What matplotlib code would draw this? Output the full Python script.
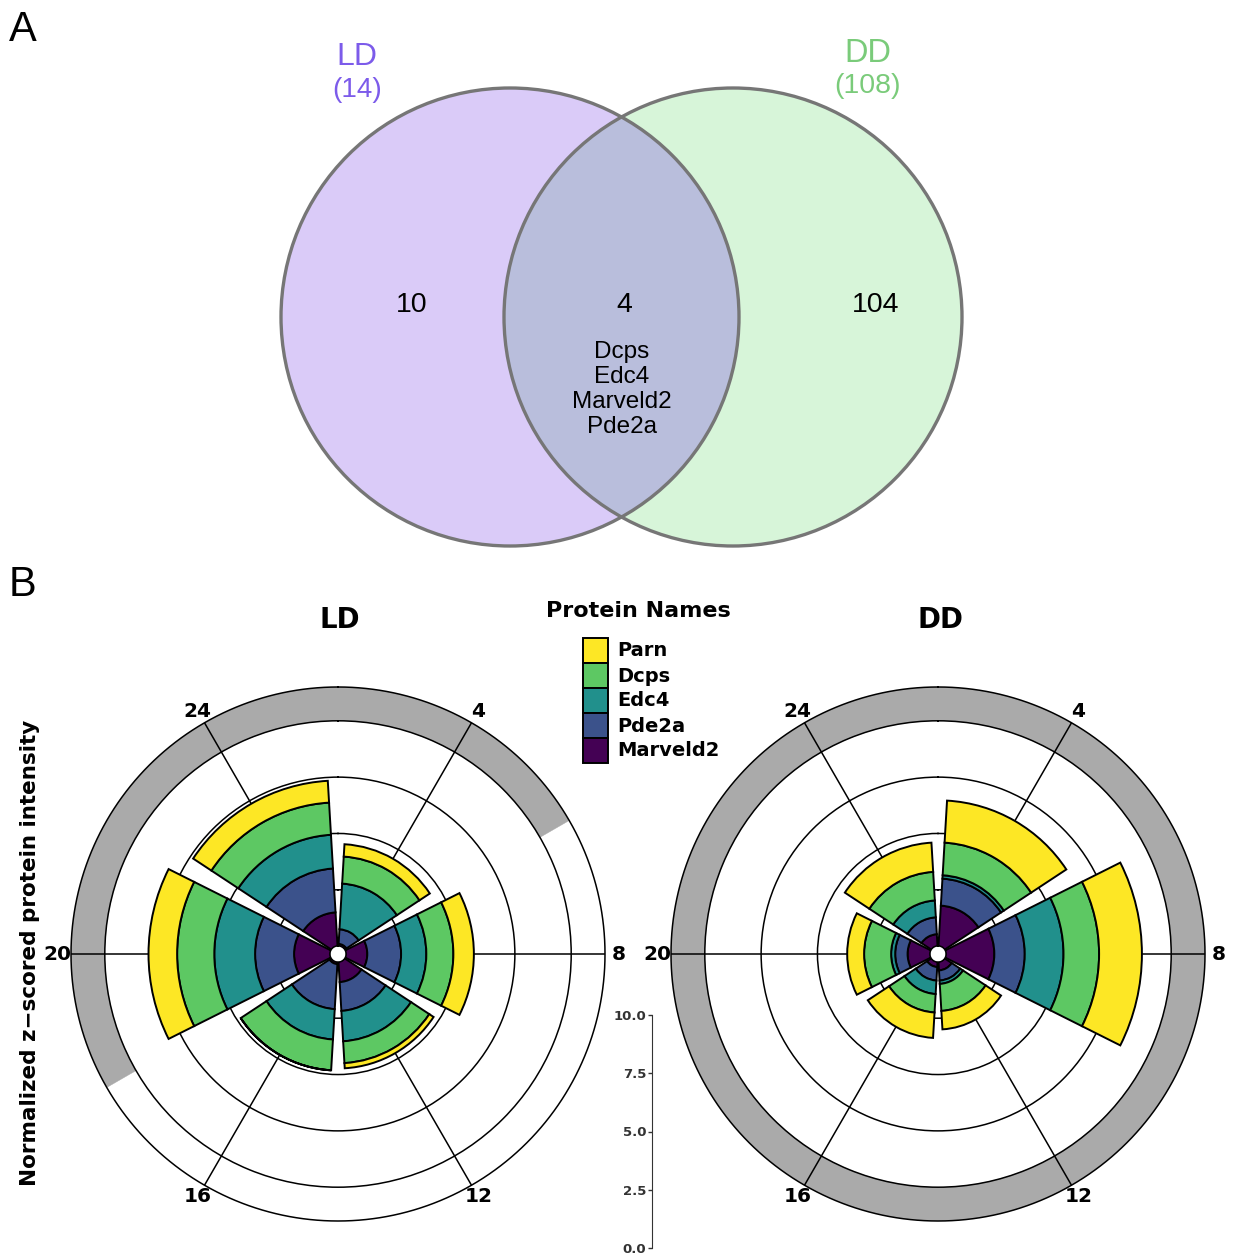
import numpy as np
import matplotlib.pyplot as plt
from matplotlib.patches import Circle, Rectangle

plt.rcParams['font.family'] = ['Liberation Sans', 'DejaVu Sans']

# ---- panel A: Venn counts
venn_names = ['LD', 'DD']
venn_totals = [14, 108]
venn_only = [10, 104]
venn_shared = 4
shared_genes = ['Dcps', 'Edc4', 'Marveld2', 'Pde2a']

# ---- panel B: stacked rose charts (z-scored intensity per ZT)
zt_hours = [0, 4, 8, 12, 16, 20]
hour_labels = ['24', '4', '8', '12', '16', '20']
proteins = ['Marveld2', 'Pde2a', 'Edc4', 'Dcps', 'Parn']      # inner -> outer
protein_colors = ['#440154', '#3B528B', '#21908C', '#5DC863', '#FDE725']

ld_marveld2 = [1.50, 0.10, 0.95, 0.90, 0.10, 1.60]
ld_pde2a = [1.95, 0.65, 1.50, 1.28, 2.00, 1.73]
ld_edc4 = [1.50, 2.03, 1.12, 1.35, 1.35, 1.81]
ld_dcps = [1.43, 1.20, 1.20, 0.97, 1.37, 1.65]
ld_parn = [0.97, 0.55, 0.91, 0.23, 0.00, 1.27]

dd_marveld2 = [0.53, 1.80, 2.15, 0.38, 0.23, 1.00]
dd_pde2a = [0.75, 1.20, 1.35, 0.45, 0.60, 0.55]
dd_edc4 = [0.75, 0.15, 1.72, 0.15, 0.60, 0.18]
dd_dcps = [1.27, 1.45, 1.58, 1.20, 0.82, 1.20]
dd_parn = [1.30, 1.87, 1.90, 0.82, 1.13, 0.75]

ld_dark = [18, 30]   # shaded ring, hours
dd_dark = [0, 24]
scale_ticks = [0, 2.5, 5, 7.5, 10]

ld_stack = [ld_marveld2, ld_pde2a, ld_edc4, ld_dcps, ld_parn]
dd_stack = [dd_marveld2, dd_pde2a, dd_edc4, dd_dcps, dd_parn]

BFONT = ['DejaVu Sans']
R_MAX = 11.5

W, H = 1235, 1257
fig = plt.figure(figsize=(W / 100, H / 100), dpi=100)

# overlay in pixel coordinates for the Venn diagram and free text
bg = fig.add_axes([0, 0, 1, 1], zorder=0)
bg.set_xlim(0, W)
bg.set_ylim(H, 0)
bg.axis('off')

venn_centers = [(510, 317), (733, 317)]
venn_r = 229
fill_cols = ['#DACBF8', '#D7F5D9']
text_cols = ['#7C5BEA', '#7ACB7A']
for (cx, cy), fc in zip(venn_centers, fill_cols):
    bg.add_patch(Circle((cx, cy), venn_r, facecolor=fc, edgecolor='none'))
overlap = Circle(venn_centers[0], venn_r, facecolor='#B9BEDC', edgecolor='none')
bg.add_patch(overlap)
overlap.set_clip_path(Circle(venn_centers[1], venn_r, transform=bg.transData))
for c in venn_centers:
    bg.add_patch(Circle(c, venn_r, facecolor='none', edgecolor='#767676', lw=2.4))

bg.text(357, 57, venn_names[0], color=text_cols[0], fontsize=23, ha='center', va='center')
bg.text(357, 90, '(%d)' % venn_totals[0], color=text_cols[0], fontsize=20, ha='center', va='center')
bg.text(868, 53, venn_names[1], color=text_cols[1], fontsize=23.5, ha='center', va='center')
bg.text(868, 86, '(%d)' % venn_totals[1], color=text_cols[1], fontsize=20.5, ha='center', va='center')
bg.text(412, 305, str(venn_only[0]), fontsize=20.5, ha='center', va='center')
bg.text(876, 305, str(venn_only[1]), fontsize=20.5, ha='center', va='center')
bg.text(624, 305, str(venn_shared), fontsize=20.5, ha='center', va='center')
for i, g in enumerate(shared_genes):
    bg.text(622, 352 + 25 * i, g, fontsize=17.5, ha='center', va='center')

bg.text(9, 30, 'A', fontsize=30, ha='left', va='center')
bg.text(9, 585, 'B', fontsize=30, ha='left', va='center')
bg.text(340, 620, 'LD', fontsize=20, fontweight='bold', family=BFONT, ha='center', va='center')
bg.text(940, 620, 'DD', fontsize=20, fontweight='bold', family=BFONT, ha='center', va='center')
bg.text(30, 953, 'Normalized z\u2212scored protein intensity', fontsize=15.5,
        fontweight='bold', family=BFONT, rotation=90, ha='center', va='center')

# legend (drawn by hand so keys touch like the original)
bg.text(638, 611, 'Protein Names', fontsize=16, fontweight='bold', family=BFONT,
        ha='center', va='center')
for i, (name, col) in enumerate(zip(proteins[::-1], protein_colors[::-1])):
    bg.add_patch(Rectangle((583, 638 + 25 * i), 25, 25, facecolor=col,
                           edgecolor='black', lw=1.4))
    bg.text(617, 651 + 25 * i, name, fontsize=14, fontweight='bold', family=BFONT,
            ha='left', va='center')


def hour_theta(h):
    # 2 h sits at the top, hours run clockwise; keep angles in [0, 2pi)
    return np.mod((np.asarray(h, dtype=float) - 2) / 24 * 2 * np.pi, 2 * np.pi)


def rose(center, stack, dark):
    R = 267
    cx, cy = center
    ax = fig.add_axes([(cx - R) / W, 1 - (cy + R) / H, 2 * R / W, 2 * R / H],
                      projection='polar', zorder=2)
    ax.patch.set_alpha(0)
    ax.set_theta_zero_location('N')
    ax.set_theta_direction(-1)

    theta = hour_theta(zt_hours)
    width = 3.55 / 24 * 2 * np.pi

    # dark-phase ring, drawn in pieces of at most 12 h
    d0, d1 = dark
    n = int(np.ceil((d1 - d0) / 12))
    edges = np.linspace(d0, d1, n + 1)
    for a, b in zip(edges[:-1], edges[1:]):
        ax.bar(hour_theta((a + b) / 2), R_MAX - 10, width=(b - a) / 24 * 2 * np.pi,
               bottom=10, color='#AAAAAA', edgecolor='#AAAAAA', linewidth=0.3,
               zorder=0.2)

    bottom = np.zeros(len(zt_hours))
    for vals, col in zip(stack, protein_colors):
        ax.bar(theta, vals, width=width, bottom=bottom, color=col,
               edgecolor='black', linewidth=1.4, zorder=2)
        bottom += np.array(vals)

    # outer border circle
    ring = np.linspace(0, 2 * np.pi, 721)
    ax.plot(ring, np.full_like(ring, R_MAX), color='black', lw=1.1,
            clip_on=False, zorder=1.5)

    ax.set_axisbelow(True)
    ax.set_xticks(theta)
    ax.set_xticklabels([])
    ax.set_yticks([2.5, 5, 7.5, 10])
    ax.set_yticklabels([])
    ax.set_ylim(0, R_MAX)
    ax.set_rorigin(-0.35)
    ax.xaxis.set_tick_params(which='both', length=0, width=0)
    ax.yaxis.set_tick_params(which='both', length=0, width=0)
    ax.grid(True, color='black', linewidth=1.1)
    for s in ax.spines.values():
        s.set_visible(False)
    for t, lab in zip(theta, hour_labels):
        ax.text(t, 12.1, lab, fontsize=14.5, fontweight='bold', family=BFONT,
                ha='center', va='center', clip_on=False)
    return ax


rose((338, 954), ld_stack, ld_dark)
rose((938, 954), dd_stack, dd_dark)

# radial scale bar
sax = fig.add_axes([652 / W, 1 - 1248 / H, 0.001, (1248 - 1015) / H], zorder=3)
sax.set_ylim(0, 10)
sax.set_yticks(scale_ticks)
sax.set_yticklabels(['%.1f' % v for v in scale_ticks])
sax.set_xticks([])
for s in ['top', 'right', 'bottom']:
    sax.spines[s].set_visible(False)
sax.spines['left'].set_color('#333333')
sax.tick_params(axis='y', length=3, width=1, colors='#333333', labelsize=9.5, pad=1)
for lab in sax.get_yticklabels():
    lab.set_fontweight('bold')
    lab.set_family(BFONT)
sax.patch.set_alpha(0)

fig.savefig('out.png', dpi=100)
